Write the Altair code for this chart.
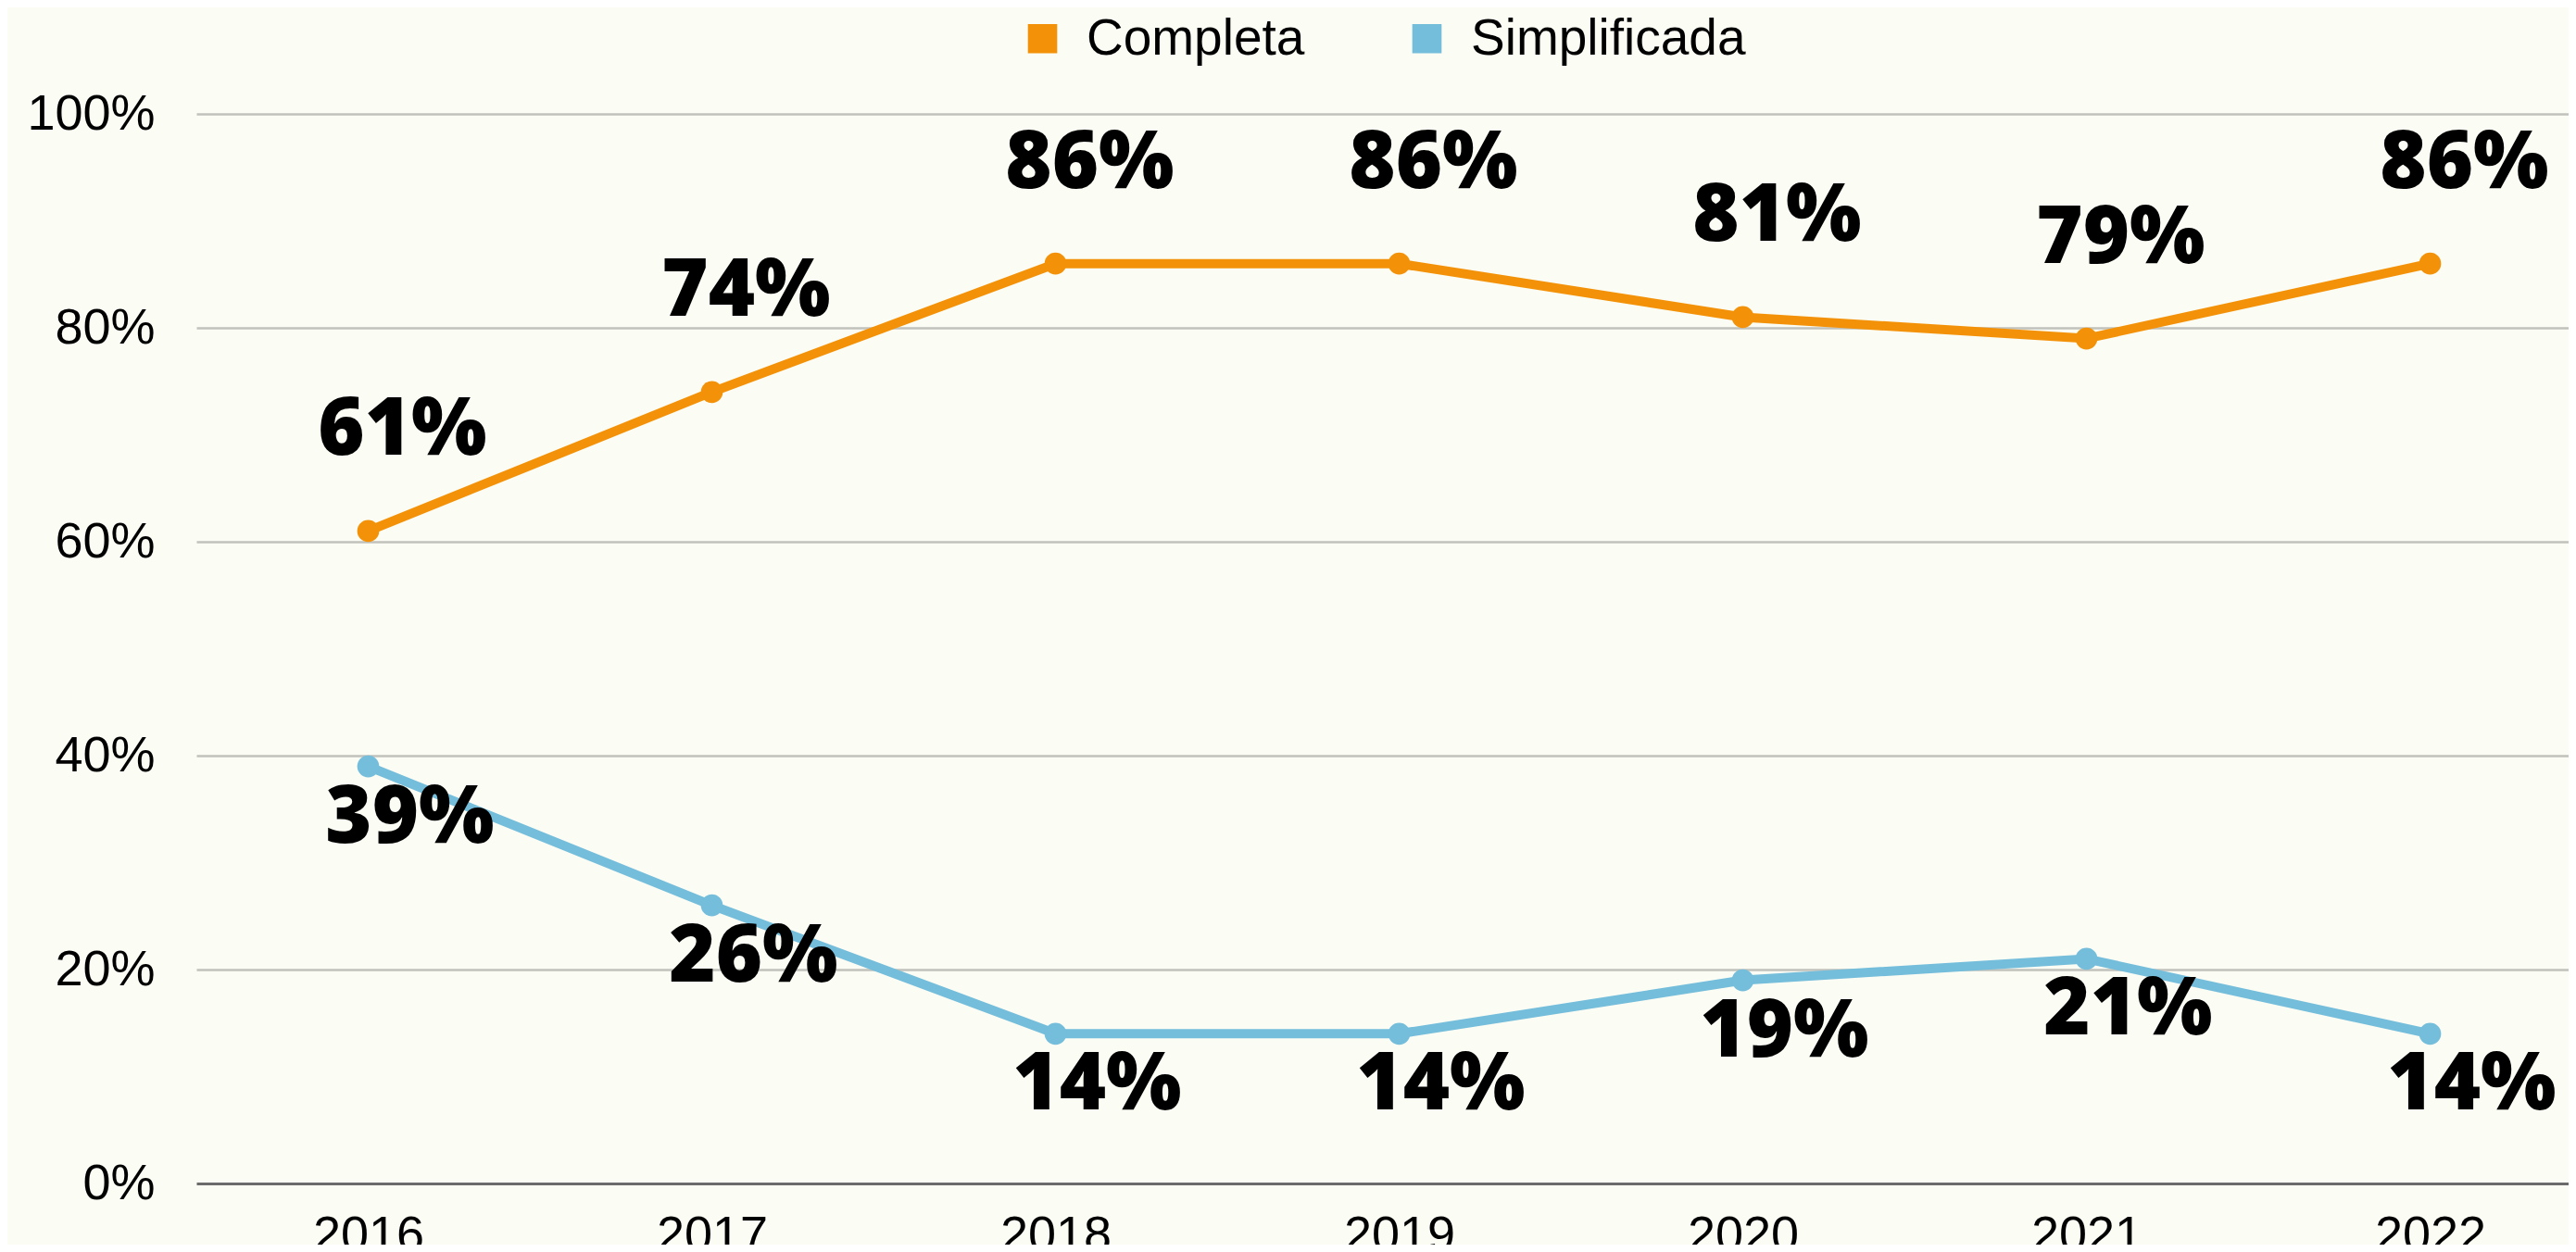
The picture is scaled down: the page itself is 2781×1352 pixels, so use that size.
import altair as alt
import pandas as pd

years = ["2016", "2017", "2018", "2019", "2020", "2021", "2022"]
completa = [61, 74, 86, 86, 81, 79, 86]
simplificada = [39, 26, 14, 14, 19, 21, 14]
series = ["Completa", "Simplificada"]
colors = ["#F39208", "#74BDDB"]
y_ticks = [0, 20, 40, 60, 80, 100]

rows = []
for yr, c, s in zip(years, completa, simplificada):
    rows.append({"year": yr, "serie": series[0], "value": c, "label": f"{c}%"})
    rows.append({"year": yr, "serie": series[1], "value": s, "label": f"{s}%"})
df = pd.DataFrame(rows)

AX_FONT = "Liberation Sans"

x_enc = alt.X(
    "year:O",
    sort=years,
    scale=alt.Scale(type="point", padding=0.5),
    axis=alt.Axis(
        title=None, labelAngle=0, labelFontSize=54, labelFont=AX_FONT,
        labelColor="black", labelPadding=29, ticks=False, tickSize=0,
        domain=False, grid=False,
    ),
)
y_enc = alt.Y(
    "value:Q",
    scale=alt.Scale(domain=[0, 100], nice=False),
    axis=alt.Axis(
        title=None, values=y_ticks, labelExpr="datum.value + '%'",
        labelFontSize=54, labelFont=AX_FONT, labelColor="black",
        labelPadding=45, ticks=False, tickSize=0, domain=False, grid=True,
        gridColor=alt.condition("datum.value === 0", alt.value("#6B6B6B"), alt.value("#C2C2BC")),
        gridWidth=alt.condition("datum.value === 0", alt.value(3), alt.value(2.5)),
    ),
)
color_scale = alt.Scale(domain=series, range=colors)

base = alt.Chart(df)

lines = base.mark_line(strokeWidth=10).encode(
    x=x_enc, y=y_enc,
    color=alt.Color("serie:N", scale=color_scale),
)

points = base.mark_point(size=560, opacity=1, filled=True, shape="circle").encode(
    x=x_enc, y=y_enc,
    color=alt.Color("serie:N", scale=color_scale),
)

label_style = dict(font="Open Sans", fontWeight=800, fontSize=86, color="black",
                   align="center", baseline="middle")

labels_top = base.transform_filter(alt.datum.serie == series[0]).mark_text(
    dx=37, dy=-108, **label_style
).encode(x=x_enc, y=y_enc, text="label:N")

labels_bottom = base.transform_filter(alt.datum.serie == series[1]).mark_text(
    dx=45, dy=56, **label_style
).encode(x=x_enc, y=y_enc, text="label:N")

chart = (
    alt.layer(lines, points, labels_top, labels_bottom)
    .properties(
        width=2597, height=1155,
        autosize=alt.AutoSizeParams(type="none"),
        padding={"left": 204, "top": 115, "right": -36, "bottom": 66},
        background="#FBFCF4",
    )
    .configure_view(stroke=None)
    .configure_legend(
        title=None, orient="none", direction="horizontal",
        legendX=886, legendY=-109, padding=0,
        symbolType="square", symbolSize=1000, symbolStrokeWidth=0,
        labelFontSize=55, labelFont=AX_FONT, labelColor="black",
        labelOffset=20, columnPadding=104, labelLimit=1000,
    )
)

chart.save("out.html", embed_options={"renderer": "svg", "actions": False})
